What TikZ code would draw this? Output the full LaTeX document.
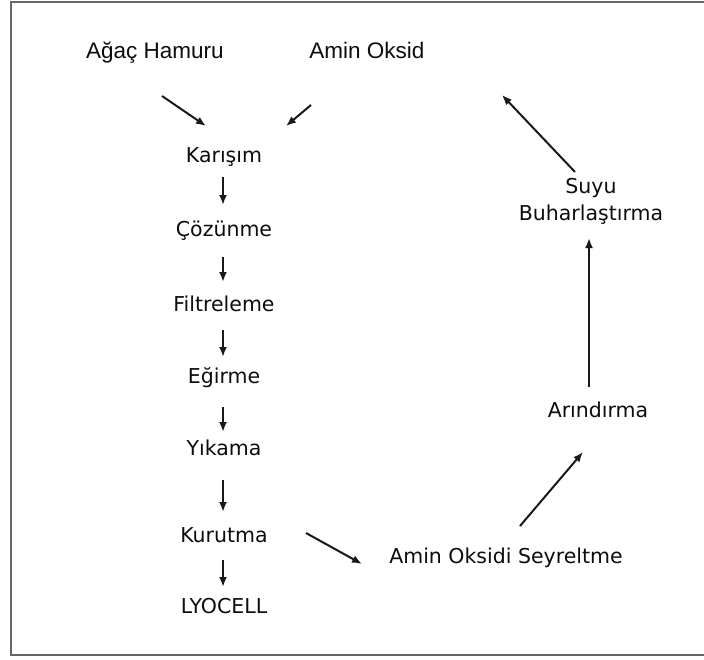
\documentclass[tikz,border=0pt]{standalone}
\usepackage{fontspec}
\setmainfont{DejaVu Sans}
\newfontfamily\toplabelfont{Liberation Sans}
\usetikzlibrary{arrows.meta,calc}
\begin{document}
\begin{tikzpicture}[x=1pt,y=-1pt,
  lbl/.style={font=\fontsize{20.5}{27}\selectfont, text=black!95, inner sep=0pt, anchor=base},
  toplbl/.style={font=\toplabelfont\fontsize{22.5}{26}\selectfont, text=black!95, inner sep=0pt, anchor=base},
  arr/.style={-{Latex[length=10pt,width=8pt]}, line width=2pt, draw=black!90},
  frame/.style={draw=black!60, line width=2pt}]
\useasboundingbox (0,0) rectangle (704,659);
\fill[white] (0,0) rectangle (704,659);
\draw[frame] (712,2) -- (11,2) -- (11,655) -- (712,655);

\node[toplbl] (agac) at (155,58) {Ağaç Hamuru};
\node[toplbl] (aminoksid) at (367,58) {Amin Oksid};
\node[lbl] (karisim) at (224,162) {Karışım};
\node[lbl] (cozunme) at (224,236) {Çözünme};
\node[lbl] (filtre) at (224,311) {Filtreleme};
\node[lbl] (egirme) at (224,383) {Eğirme};
\node[lbl] (yikama) at (224,455) {Yıkama};
\node[lbl] (kurutma) at (224,542) {Kurutma};
\node[lbl] (lyocell) at (224,613) {LYOCELL};
\node[lbl] (seyreltme) at (506,563) {Amin Oksidi Seyreltme};
\node[lbl] (arindirma) at (598,417) {Arındırma};
\node[lbl, align=center, anchor=center] (suyu) at (591,201) {Suyu\\Buharlaştırma};

\draw[arr] ($(agac.base)+(7,38)$) -- ($(karisim.base)+(-18,-36)$);
\draw[arr] ($(aminoksid.base)+(-56,47)$) -- ($(karisim.base)+(62,-36)$);
\draw[arr] ($(karisim.base)+(-1,15)$) -- ($(cozunme.base)+(-1,-31)$);
\draw[arr] ($(cozunme.base)+(-1,21)$) -- ($(filtre.base)+(-1,-29)$);
\draw[arr] ($(filtre.base)+(-1,19)$) -- ($(egirme.base)+(-1,-26)$);
\draw[arr] ($(egirme.base)+(-1,24)$) -- ($(yikama.base)+(-1,-23)$);
\draw[arr] ($(yikama.base)+(-1,25)$) -- ($(kurutma.base)+(-1,-30)$);
\draw[arr] ($(kurutma.base)+(-1,18)$) -- ($(lyocell.base)+(-1,-26)$);
\draw[arr] ($(kurutma.base)+(82,-9)$) -- ($(seyreltme.base)+(-144,1)$);
\draw[arr] ($(seyreltme.base)+(14,-37)$) -- ($(arindirma.base)+(-15,35)$);
\draw[arr] ($(arindirma.base)+(-9,-30)$) -- ($(suyu.center)+(-2,37)$);
\draw[arr] ($(suyu.center)+(-16,-29)$) -- ($(aminoksid.base)+(135,37)$);
\end{tikzpicture}
\end{document}
